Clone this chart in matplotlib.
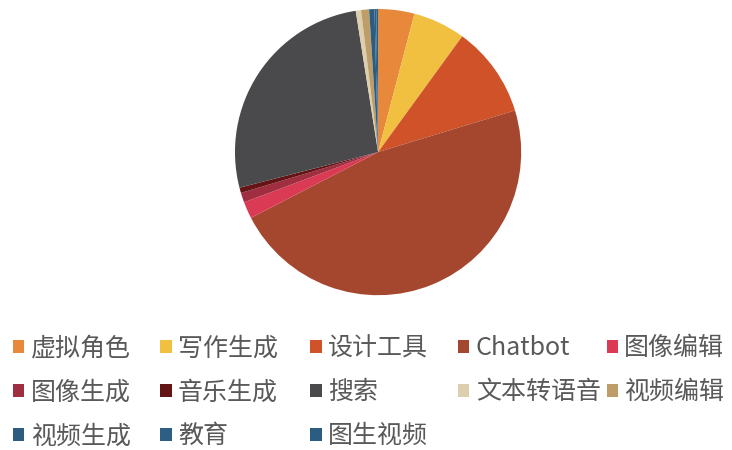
import matplotlib
matplotlib.use('Agg')
import matplotlib.pyplot as plt
from matplotlib.patches import Patch

plt.rcParams['font.family'] = ['Noto Sans CJK SC', 'DejaVu Sans']

# share of each category (%), clockwise from 12 o'clock
labels = ['虚拟角色', '写作生成', '设计工具', 'Chatbot', '图像编辑',
          '图像生成', '音乐生成', '搜索', '文本转语音', '视频编辑',
          '视频生成', '教育', '图生视频']
values = [4.1, 5.9, 10.3, 47.1, 1.9,
          1.1, 0.6, 26.5, 0.6, 0.9,
          0.6, 0.2, 0.2]
colors = ['#E8883A', '#F2C040', '#D05228', '#A5462E', '#DB3A55',
          '#9E2E40', '#641414', '#4A4A4C', '#DDCFAE', '#BF9D68',
          '#2C5D80', '#2D5E84', '#2B5C82']

fig = plt.figure(figsize=(7.32, 4.5), dpi=100)
ax = fig.add_axes([0.321, 0.344, 0.391, 0.636])
ax.pie(values, colors=colors, startangle=90, counterclock=False, radius=1,
       wedgeprops=dict(linewidth=0))
ax.set_xlim(-1, 1)
ax.set_ylim(-1, 1)
ax.set_aspect('equal')
ax.axis('off')

# legend laid out as 5 equal-width columns, like the original
handles = [Patch(facecolor=c, edgecolor='none') for c in colors]
col_x = [0.018, 0.219, 0.424, 0.626, 0.829]
for i, x in enumerate(col_x):
    idx = list(range(i, len(labels), 5))
    fig.legend([handles[j] for j in idx], [labels[j] for j in idx],
               loc='upper left', bbox_to_anchor=(x, 0.255), frameon=False,
               fontsize=18, labelcolor='#595959', handlelength=0.45,
               handleheight=0.45, handletextpad=0.25, labelspacing=0.72,
               borderpad=0, borderaxespad=0)

fig.savefig('out.png', dpi=100)
